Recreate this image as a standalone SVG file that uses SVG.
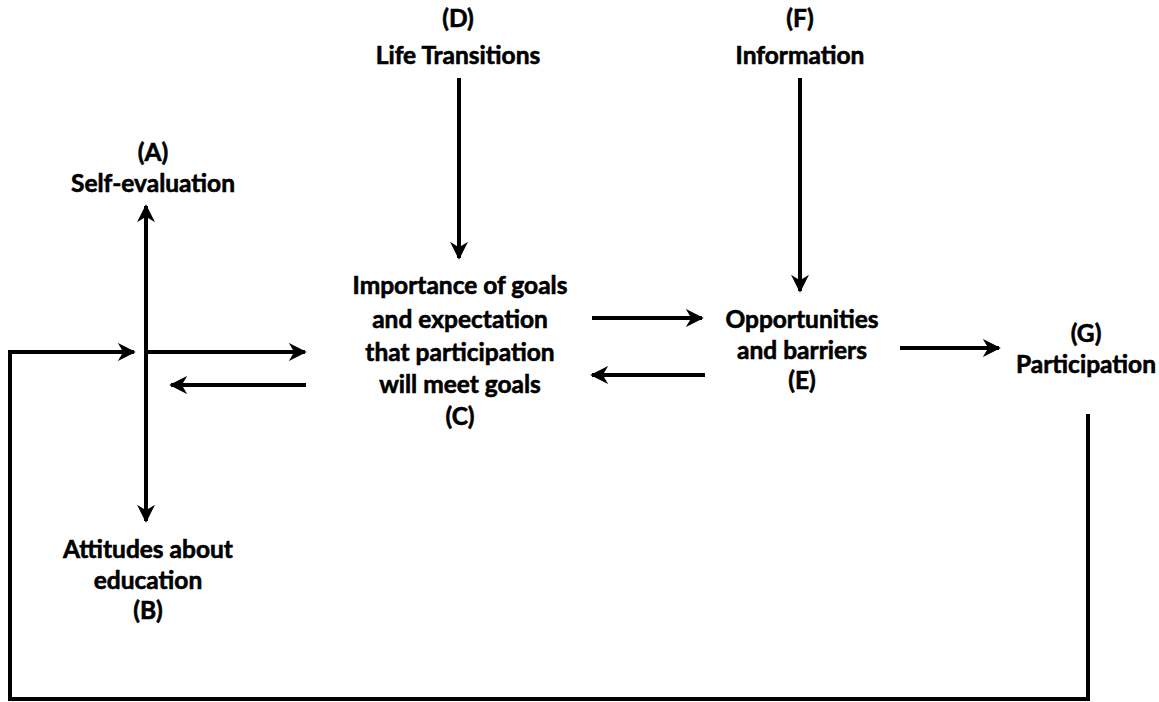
<svg xmlns="http://www.w3.org/2000/svg" width="1159" height="702" viewBox="0 0 1159 702">
<style>
text{font-family:Lato,"Open Sans","Liberation Sans",sans-serif;font-weight:bold;font-size:24.5px;fill:#000;stroke:#000;stroke-width:0.6;text-anchor:middle}
.c{stroke:#000;stroke-width:4;fill:none}
</style>
<defs>
<marker id="ah" viewBox="0 0 10 10" refX="9" refY="5" markerWidth="4.5" markerHeight="4.5" orient="auto" markerUnits="strokeWidth">
<path d="M0,0 L10,5 L0,10 L3,5 Z" fill="#000"/>
</marker>
</defs>
<rect width="1159" height="702" fill="#fff"/>
<g id="connectors">
<path class="c" d="M1088,414 V699 H10 V352 H134" marker-end="url(#ah)"/>
<path class="c" d="M146,352 V206" marker-end="url(#ah)"/>
<path class="c" d="M146,352 V521" marker-end="url(#ah)"/>
<path class="c" d="M146,352 H305" marker-end="url(#ah)"/>
<path class="c" d="M306,385 H171" marker-end="url(#ah)"/>
<path class="c" d="M459,78 V258" marker-end="url(#ah)"/>
<path class="c" d="M592,318 H702" marker-end="url(#ah)"/>
<path class="c" d="M705,375 H592" marker-end="url(#ah)"/>
<path class="c" d="M800,78 V291" marker-end="url(#ah)"/>
<path class="c" d="M900,348 H999" marker-end="url(#ah)"/>
</g>
<g id="A"><text x="153" y="161">(A)</text><text x="153" y="192">Self-evaluation</text></g>
<g id="B"><text x="148" y="558">Attitudes about</text><text x="148" y="589">education</text><text x="148" y="619">(B)</text></g>
<g id="C"><text x="460" y="294">Importance of goals</text><text x="460" y="328">and expectation</text><text x="460" y="361">that participation</text><text x="460" y="393">will meet goals</text><text x="460" y="425">(C)</text></g>
<g id="D"><text x="458" y="27">(D)</text><text x="458" y="64">Life Transitions</text></g>
<g id="E"><text x="802" y="328">Opportunities</text><text x="802" y="359">and barriers</text><text x="802" y="389">(E)</text></g>
<g id="F"><text x="800" y="27">(F)</text><text x="800" y="64">Information</text></g>
<g id="G"><text x="1086" y="342">(G)</text><text x="1086" y="373">Participation</text></g>
</svg>
